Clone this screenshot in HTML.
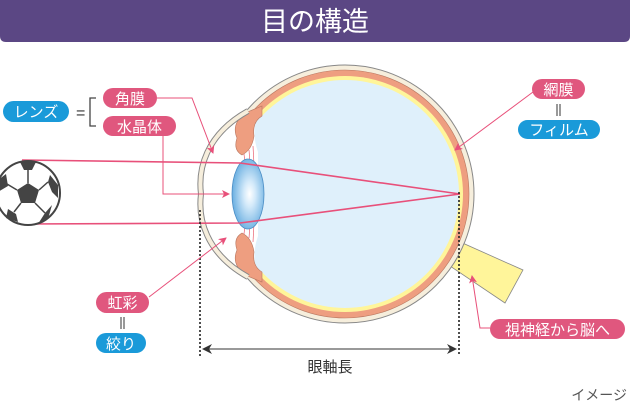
<!DOCTYPE html>
<html><head><meta charset="utf-8"><style>
html,body{margin:0;padding:0;background:#fff;width:630px;height:410px;overflow:hidden}
svg text{font-family:"Liberation Sans","Noto Sans CJK JP",sans-serif}
</style></head><body>
<svg width="630" height="410" viewBox="0 0 630 410" xmlns="http://www.w3.org/2000/svg">
<defs>
<radialGradient id="lg" cx="0.55" cy="0.5" r="0.6"><stop offset="0" stop-color="#fff"/><stop offset="0.3" stop-color="#d4eafa"/><stop offset="1" stop-color="#5aa6dd"/></radialGradient>
<marker id="ar" markerWidth="8" markerHeight="8" refX="7" refY="4" orient="auto" markerUnits="userSpaceOnUse"><path d="M0,0 L8,4 L0,8 L2,4 Z" fill="#e8507a"/></marker>
<marker id="ak" markerWidth="10" markerHeight="10" refX="9" refY="5" orient="auto" markerUnits="userSpaceOnUse"><path d="M0,0 L10,5 L0,10 L3,5 Z" fill="#333"/></marker>
</defs>
<path d="M0,0H630V36Q630,42 624,42H6Q0,42 0,36Z" fill="#5b4784"/>
<text x="315" y="31" font-size="27" fill="#fff" text-anchor="middle">目の構造</text>

<!-- optic nerve -->
<polygon points="447,247 458,241 523,270 505,303 444,262" fill="#fff59a" stroke="#888" stroke-width="0.8"/>
<!-- eye -->
<circle cx="345" cy="194" r="129" fill="#f6eedc" stroke="#888" stroke-width="1"/>
<circle cx="345" cy="194" r="124" fill="#ee9e80" stroke="#b87760" stroke-width="0.6"/>
<circle cx="345" cy="194" r="118" fill="#fff59a"/>
<circle cx="345" cy="194" r="114" fill="#dff0fb"/>
<!-- anterior white -->
<path d="M245,113 C205,135 198,170 201,194 C198,218 205,253 245,275 L258,275 L258,113 Z" fill="#fff"/>
<!-- vitreous front -->
<path d="M262,114 L256,120 Q252,135 258,152 Q272,194 258,236 Q252,253 256,268 L262,274 Z" fill="#dff0fb"/>
<!-- ciliary / iris -->
<path d="M245,113 L262,106 L262,116 Q252,122 254,136 Q252,150 242,155 Q233,150 237,138 Q231,124 245,113 Z" fill="#ee9e80" stroke="#b87760" stroke-width="0.6"/>
<path d="M245,275 L262,282 L262,272 Q252,266 254,252 Q252,238 242,233 Q233,238 237,250 Q231,264 245,275 Z" fill="#ee9e80" stroke="#b87760" stroke-width="0.6"/>
<g stroke="#e86070" stroke-width="0.7"><line x1="244" y1="154" x2="245" y2="163"/><line x1="249" y1="150" x2="250" y2="163"/><line x1="253" y1="146" x2="254" y2="165"/><line x1="244" y1="234" x2="245" y2="225"/><line x1="249" y1="238" x2="250" y2="225"/><line x1="253" y1="242" x2="254" y2="223"/></g>
<!-- cornea -->
<path d="M248,111 C205,135 198,170 201,194 C198,218 205,253 248,277" fill="none" stroke="#888" stroke-width="6"/>
<path d="M248,111 C205,135 198,170 201,194 C198,218 205,253 248,277" fill="none" stroke="#f6eedc" stroke-width="4"/>
<ellipse cx="248" cy="194" rx="16" ry="35" fill="url(#lg)" stroke="#4a8cc4" stroke-width="0.8"/>

<!-- rays -->
<g stroke="#e8507a" stroke-width="1.6" fill="none">
<polyline points="22,160 240,163 460,194"/>
<polyline points="22,224 240,223 460,194"/>
</g>
<!-- soccer ball -->
<circle cx="28" cy="193" r="32" fill="#fff" stroke="#444" stroke-width="2"/>
<polygon points="28,183 39,190 35,203 21,203 17,190" fill="#444"/>
<polygon points="20,162 36,162 32,170 24,170" fill="#444"/>
<polygon points="50,175 58,185 58,198 52,192 48,182" fill="#444"/>
<polygon points="45,213 52,205 48,219 38,224" fill="#444"/>
<polygon points="8,209 16,214 18,222 6,218" fill="#444"/>
<polygon points="-2,180 6,174 8,186 -2,192" fill="#444"/>
<g stroke="#444" stroke-width="1.5"><line x1="28" y1="183" x2="28" y2="170"/><line x1="39" y1="190" x2="48" y2="182"/><line x1="35" y1="203" x2="45" y2="213"/><line x1="21" y1="203" x2="14" y2="212"/><line x1="17" y1="190" x2="7" y2="184"/></g>

<!-- dotted / dimension -->
<g stroke="#222" stroke-width="1.6" stroke-dasharray="2,2"><line x1="200" y1="210" x2="200" y2="356"/><line x1="459" y1="192" x2="459" y2="356"/></g>
<line x1="203" y1="349" x2="456" y2="349" stroke="#333" stroke-width="1" marker-end="url(#ak)"/>
<line x1="456" y1="349" x2="203" y2="349" stroke="#333" stroke-width="1" marker-end="url(#ak)"/>
<text x="330" y="372" font-size="15" fill="#333" text-anchor="middle">眼軸長</text>

<!-- leader lines -->
<g stroke="#e8507a" stroke-width="1" fill="none">
<polyline points="157,98 192,98 213,153" marker-end="url(#ar)"/>
<polyline points="163,136 163,194 229,194" marker-end="url(#ar)"/>
<polyline points="149,297 226,238" marker-end="url(#ar)"/>
<polyline points="533,92 455,150" marker-end="url(#ar)"/>
<polyline points="490,328 480,328 472,276" marker-end="url(#ar)"/>
</g>

<!-- labels -->
<g font-size="15" fill="#fff" text-anchor="middle">
<rect x="3" y="101" width="66" height="21" rx="10.5" fill="#1a9ad9"/><text x="36" y="117">レンズ</text>
<rect x="103" y="88" width="54" height="20" rx="10" fill="#e0577e"/><text x="130" y="104">角膜</text>
<rect x="103" y="116" width="73" height="20" rx="10" fill="#e0577e"/><text x="139.5" y="132">水晶体</text>
<rect x="96" y="292" width="53" height="21" rx="10.5" fill="#e0577e"/><text x="122.5" y="308">虹彩</text>
<rect x="96" y="333" width="50" height="20" rx="10" fill="#1a9ad9"/><text x="121" y="349">絞り</text>
<rect x="532" y="79" width="53" height="20" rx="10" fill="#e0577e"/><text x="558.5" y="95">網膜</text>
<rect x="518" y="120" width="82" height="19" rx="9.5" fill="#1a9ad9"/><text x="559" y="135">フィルム</text>
<rect x="490" y="319" width="135" height="20" rx="10" fill="#e0577e"/><text x="557.5" y="335">視神経から脳へ</text>
</g>
<text x="76" y="118" font-size="16" fill="#333">=</text>
<polyline points="96,98 90,98 90,126 96,126" fill="none" stroke="#444" stroke-width="1.3"/>
<g stroke="#333" stroke-width="1"><line x1="121" y1="317" x2="121" y2="329"/><line x1="124" y1="317" x2="124" y2="329"/><line x1="557" y1="104" x2="557" y2="116"/><line x1="560" y1="104" x2="560" y2="116"/></g>
<text x="627" y="400" font-size="14" fill="#555" text-anchor="end">イメージ</text>
</svg>
</body></html>
